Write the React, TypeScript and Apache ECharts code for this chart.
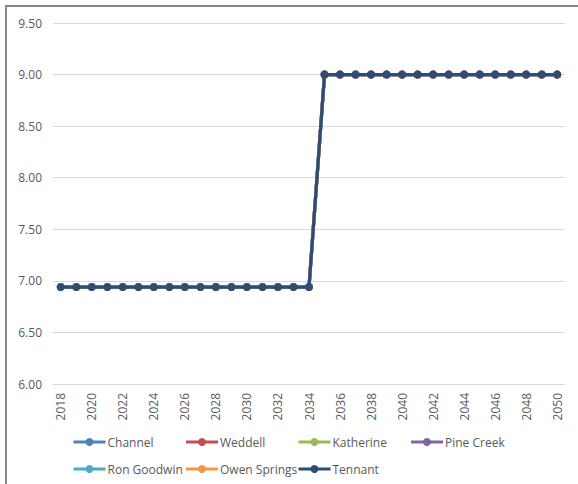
import React, { useEffect, useRef } from 'react';
import * as echarts from 'echarts';

const years = [
  '2018', '2019', '2020', '2021', '2022', '2023', '2024', '2025', '2026', '2027', '2028',
  '2029', '2030', '2031', '2032', '2033', '2034', '2035', '2036', '2037', '2038', '2039',
  '2040', '2041', '2042', '2043', '2044', '2045', '2046', '2047', '2048', '2049', '2050'
];

// every site carries the same tariff path, so the lines sit on top of each other
const tariff = [
  6.94, 6.94, 6.94, 6.94, 6.94, 6.94, 6.94, 6.94, 6.94, 6.94, 6.94,
  6.94, 6.94, 6.94, 6.94, 6.94, 6.94, 9.0, 9.0, 9.0, 9.0, 9.0,
  9.0, 9.0, 9.0, 9.0, 9.0, 9.0, 9.0, 9.0, 9.0, 9.0, 9.0
];

const sites = ['Channel', 'Weddell', 'Katherine', 'Pine Creek', 'Ron Goodwin', 'Owen Springs', 'Tennant'];
const siteColors = ['#4f81bd', '#c0504d', '#9bbb59', '#8064a2', '#4bacc6', '#f79646', '#2c4d75'];

const yMin = 6;
const yMax = 9.5;
const yStep = 0.5;

const font = '"Open Sans", "Noto Sans", sans-serif';

const App: React.FC = () => {
  const chartRef = useRef<HTMLDivElement>(null);

  useEffect(() => {
    if (!chartRef.current) return;
    const chart = echarts.init(chartRef.current, null, { renderer: 'svg' });

    const legends = sites.map((name, i) => ({
      data: [name],
      left: 72 + (i % 4) * 112.5,
      top: i < 4 ? 436 : 463,
      itemWidth: 32,
      itemHeight: 10,
      itemGap: 0,
      padding: 0,
      lineStyle: { width: 3 },
      textStyle: { color: '#595959', fontSize: 12, fontFamily: font, padding: [0, 0, 0, -3] }
    }));

    chart.setOption({
      animation: false,
      textStyle: { fontFamily: font },
      grid: { left: 53, right: 13, top: 23, bottom: 100, containLabel: false },
      legend: legends,
      graphic: [
        { type: 'line', shape: { x1: 5, y1: 6, x2: 578, y2: 6 }, style: { stroke: '#868686', lineWidth: 2 } },
        { type: 'line', shape: { x1: 6, y1: 5, x2: 6, y2: 484 }, style: { stroke: '#868686', lineWidth: 2 } }
      ],
      xAxis: {
        type: 'category',
        data: years,
        boundaryGap: true,
        axisLine: { show: true, lineStyle: { color: '#d9d9d9', width: 1 } },
        axisTick: { show: false },
        axisLabel: {
          interval: 1,
          rotate: 90,
          margin: 9,
          color: '#595959',
          fontSize: 12,
          fontFamily: font
        }
      },
      yAxis: {
        type: 'value',
        min: yMin,
        max: yMax,
        interval: yStep,
        axisLine: { show: false },
        axisTick: { show: false },
        splitLine: { lineStyle: { color: '#d9d9d9', width: 1 } },
        axisLabel: {
          margin: 11,
          color: '#595959',
          fontSize: 12,
          fontFamily: font,
          formatter: (v: number) => v.toFixed(2)
        }
      },
      series: sites.map((name, i) => ({
        name,
        type: 'line',
        data: tariff,
        color: siteColors[i],
        symbol: 'circle',
        symbolSize: 8,
        lineStyle: { width: 3.2, color: siteColors[i] },
        itemStyle: { color: siteColors[i] },
        z: 2 + i
      }))
    });

    return () => {
      chart.dispose();
    };
  }, []);

  return (
    <div style={{ position: 'fixed', left: 0, top: 0, width: 578, height: 484, background: '#fff' }}>
      <div ref={chartRef} style={{ width: 578, height: 484 }} />
    </div>
  );
};

export default App;
